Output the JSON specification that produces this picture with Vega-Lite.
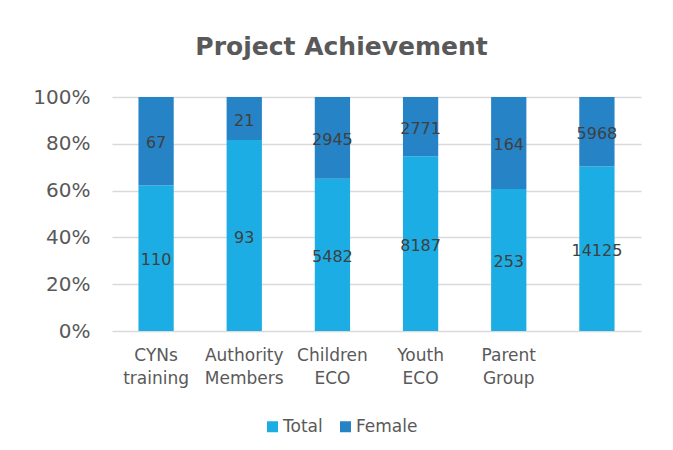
{
  "$schema": "https://vega.github.io/schema/vega-lite/v6.json",
  "width": 529,
  "height": 234,
  "autosize": "none",
  "padding": {"left": 112, "top": 97, "right": 32, "bottom": 119},
  "background": "white",
  "config": {"view": {"stroke": null}},
  "title": {"text": "Project Achievement", "font": "DejaVu Sans", "fontSize": 25, "fontWeight": "bold", "color": "#595959", "anchor": "middle", "frame": "group", "dx": -35, "offset": 27},
  "data": {"values": [
    {"category": "CYNs training", "series": "Total", "value": 110},
    {"category": "CYNs training", "series": "Female", "value": 67},
    {"category": "Authority Members", "series": "Total", "value": 93},
    {"category": "Authority Members", "series": "Female", "value": 21},
    {"category": "Children ECO", "series": "Total", "value": 5482},
    {"category": "Children ECO", "series": "Female", "value": 2945},
    {"category": "Youth ECO", "series": "Total", "value": 8187},
    {"category": "Youth ECO", "series": "Female", "value": 2771},
    {"category": "Parent Group", "series": "Total", "value": 253},
    {"category": "Parent Group", "series": "Female", "value": 164},
    {"category": " ", "series": "Total", "value": 14125},
    {"category": " ", "series": "Female", "value": 5968}
  ]},
  "transform": [
    {"stack": "value", "groupby": ["category"], "offset": "normalize", "sort": [{"field": "series", "order": "descending"}], "as": ["v0", "v1"]},
    {"calculate": "(datum.v0 + datum.v1) / 2", "as": "mid"}
  ],
  "encoding": {
    "x": {"field": "category", "type": "nominal", "sort": null,
      "scale": {"paddingInner": 0.6, "paddingOuter": 0.3},
      "axis": {"title": null, "labelAngle": 0, "ticks": false, "domain": false, "labelFont": "DejaVu Sans", "labelFontSize": 17, "labelColor": "#595959", "labelLineHeight": 23, "labelPadding": 16, "labelExpr": "split(datum.label, ' ')"}}
  },
  "layer": [
    {
      "mark": {"type": "bar"},
      "encoding": {
        "y": {"field": "v0", "type": "quantitative", "scale": {"domain": [0, 1], "nice": false},
          "axis": {"title": null, "values": [0, 0.2, 0.4, 0.6, 0.8, 1], "format": ".0%", "ticks": false, "domain": false, "gridColor": "#D9D9D9", "gridWidth": 1.3, "labelFont": "DejaVu Sans", "labelFontSize": 20, "labelColor": "#595959", "labelPadding": 22}},
        "y2": {"field": "v1"},
        "color": {"field": "series", "type": "nominal", "scale": {"domain": ["Total", "Female"], "range": ["#1CADE4", "#2683C6"]},
          "legend": {"title": null, "orient": "none", "direction": "horizontal", "legendX": 152, "legendY": 321, "symbolType": "square", "symbolSize": 121, "symbolStrokeWidth": 0, "labelFont": "DejaVu Sans", "labelFontSize": 17, "labelColor": "#595959", "labelOffset": 2, "columnPadding": 14}}
      }
    },
    {
      "mark": {"type": "text", "font": "DejaVu Sans", "fontSize": 16, "color": "#404040", "dy": 2},
      "encoding": {
        "y": {"field": "mid", "type": "quantitative"},
        "text": {"field": "value", "type": "quantitative", "format": "d"}
      }
    }
  ]
}
